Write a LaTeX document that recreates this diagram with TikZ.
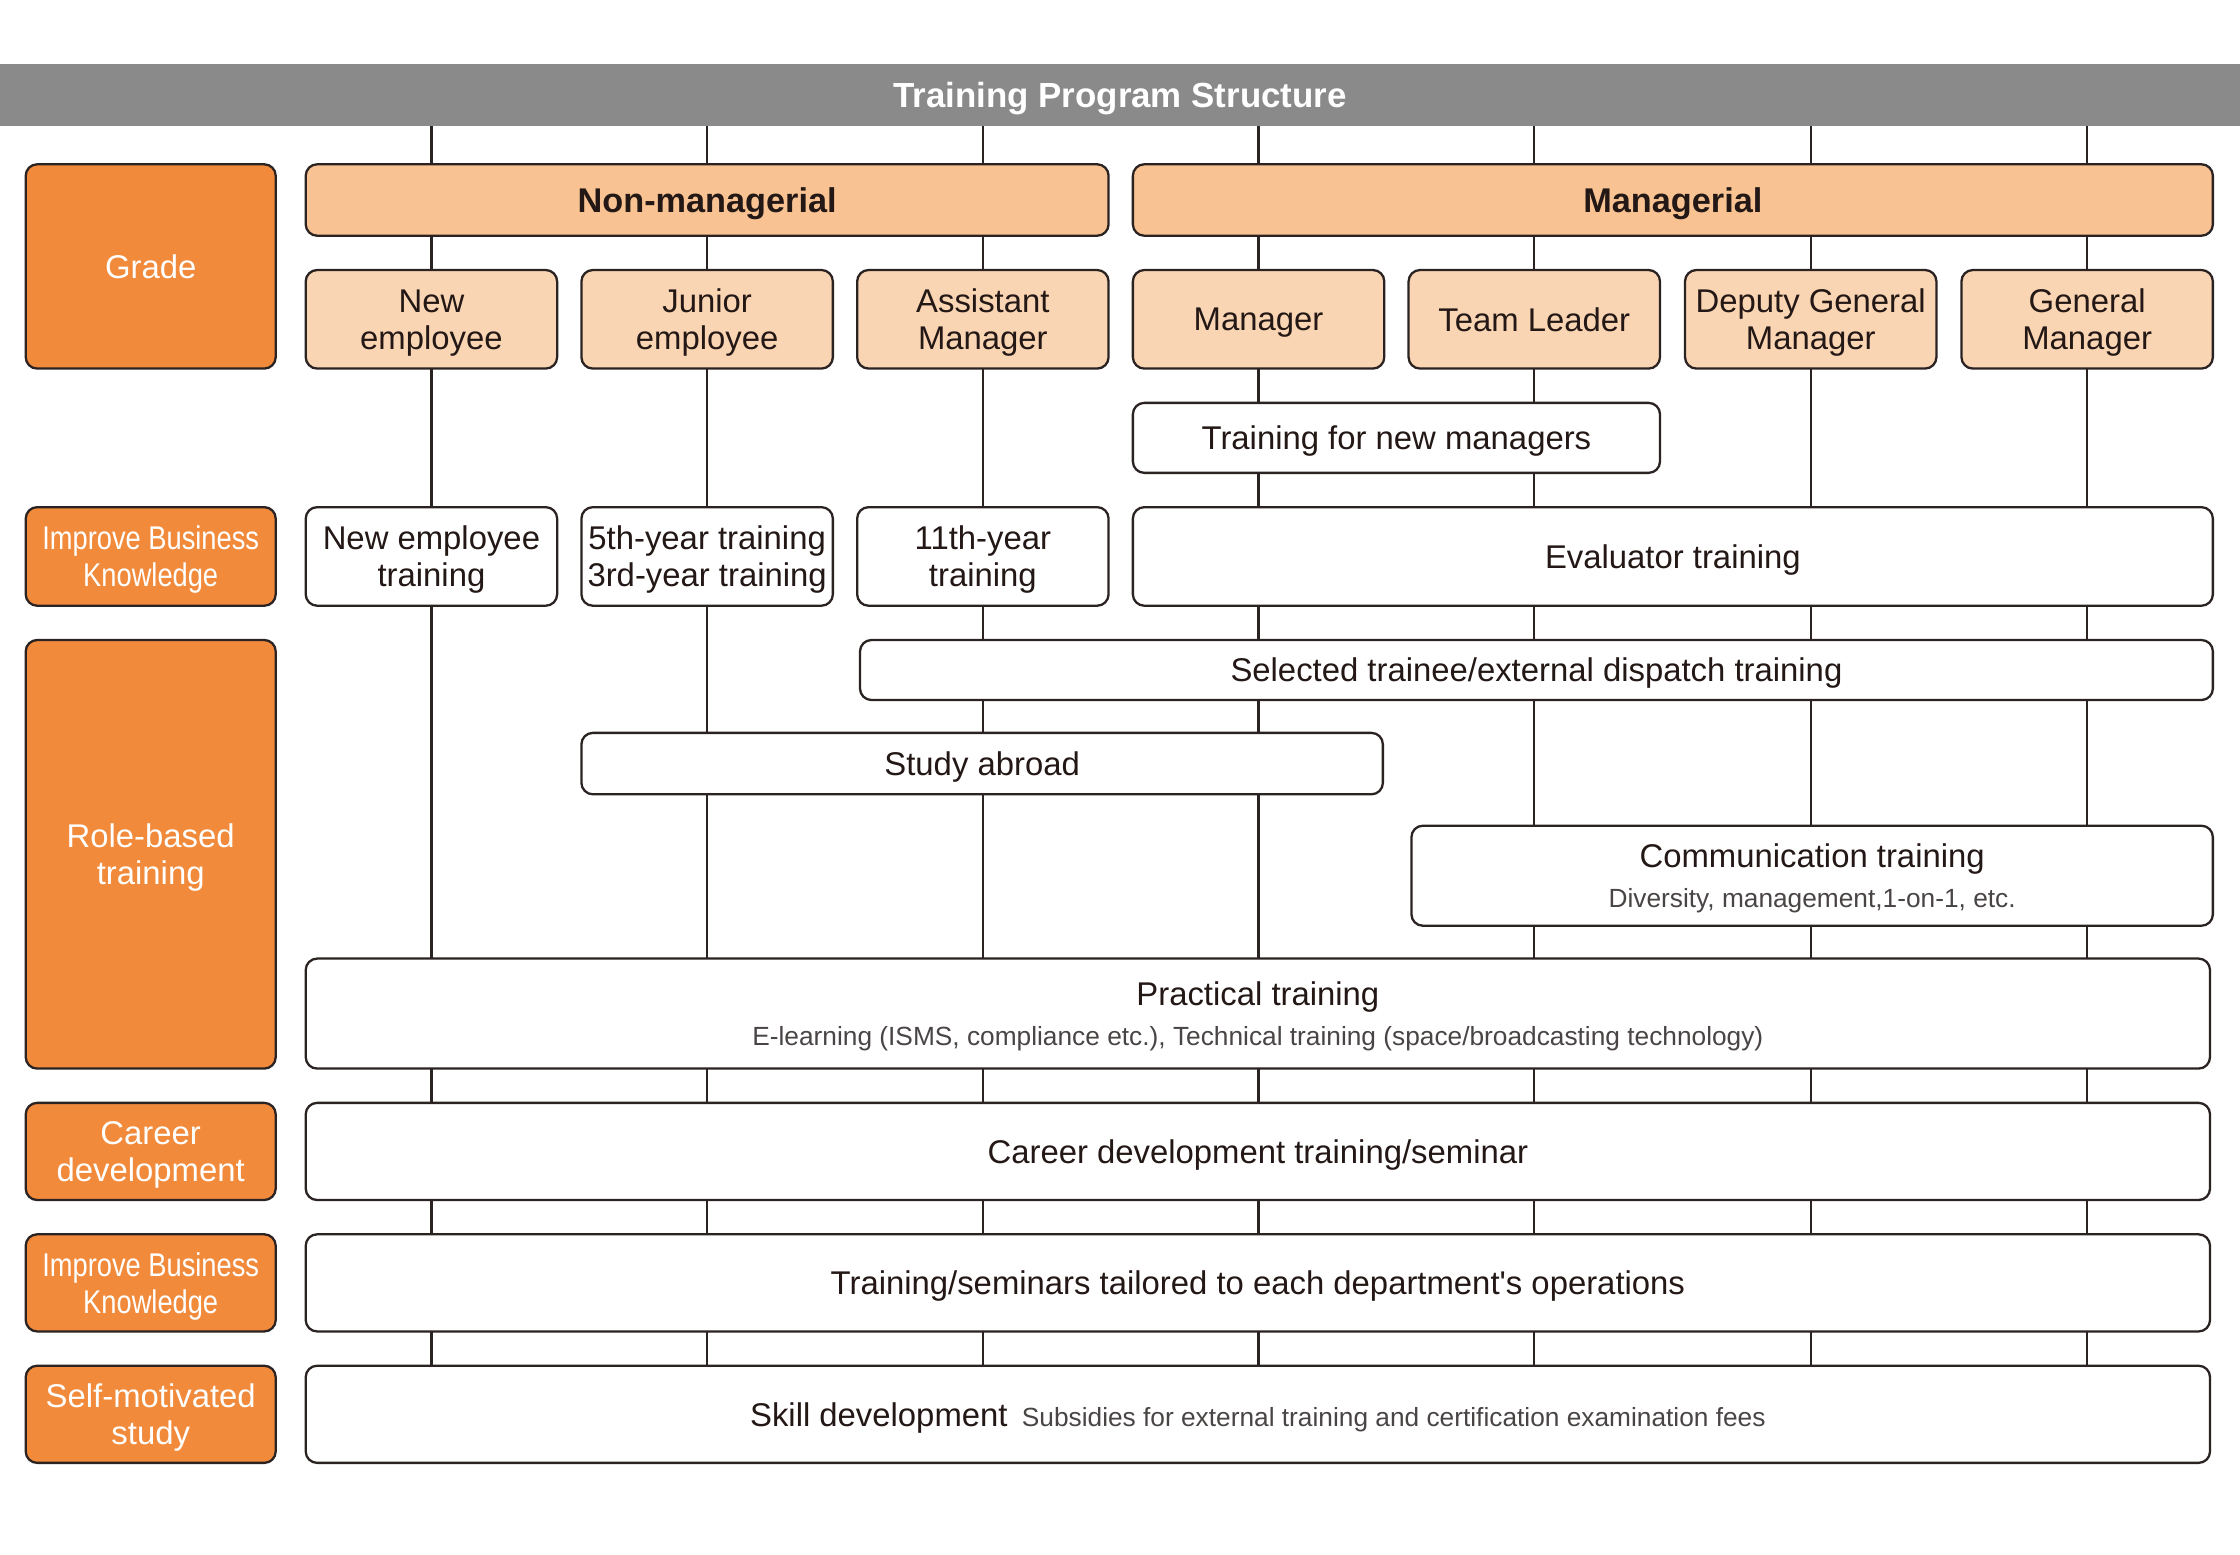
\documentclass[tikz,border=0pt]{standalone}
\usepackage{fontspec}
\setmainfont{Liberation Sans}[Ligatures=TeXOff]
\newfontfamily\condfont[FakeStretch=0.83,Ligatures=TeXOff]{Liberation Sans}
\usetikzlibrary{backgrounds}
\definecolor{orangeD}{HTML}{F18A3B}
\definecolor{orangeM}{HTML}{F8C292}
\definecolor{orangeL}{HTML}{FAD5B3}
\definecolor{headgrey}{HTML}{8A8A8A}
\definecolor{linec}{HTML}{2B2222}
\definecolor{textc}{HTML}{231815}
\definecolor{subc}{HTML}{4A4545}
\newcommand\subf{\fontsize{9.2}{10.5}\selectfont\color{subc}}
\tikzset{
  box/.style={draw=linec, line width=0.8pt, rounded corners=4pt, fill=white, text=textc,
    inner sep=0pt, align=center, text depth=-3.2pt, font=\fontsize{11.5}{13}\selectfont},
  lab/.style={box, fill=orangeD, text=white},
  condlab/.style={lab, font=\condfont\fontsize{11.5}{13}\selectfont},
  gradebox/.style={box, fill=orangeL, minimum width=88pt, minimum height=34.5pt},
  catbox/.style={box, fill=orangeM, minimum height=25pt, font=\bfseries\fontsize{12}{14}\selectfont},
  col/.style={line width=0.8pt, draw=linec}
}
\begin{document}
\begin{tikzpicture}[x=0.5pt,y=-0.5pt]
\useasboundingbox (0,0) rectangle (1568,1088);
% header
\node[fill=headgrey, minimum width=784pt, minimum height=21.5pt, inner sep=0pt, text=white, text depth=-3.2pt,
  font=\bfseries\fontsize{12.2}{14}\selectfont] (header) at (784,66.5) {Training Program Structure};
% left labels
\node[lab, minimum width=87.5pt, minimum height=71.5pt] (grade) at (105.5,186.5) {Grade};
\node[condlab, minimum width=87.5pt, minimum height=34.5pt] (ibk1) at (105.5,389.5) {Improve Business\\Knowledge};
\node[lab, minimum width=87.5pt, minimum height=150pt] (role) at (105.5,598) {Role-based\\training};
\node[lab, minimum width=87.5pt, minimum height=34pt] (career) at (105.5,806) {Career\\development};
\node[condlab, minimum width=87.5pt, minimum height=34pt] (ibk2) at (105.5,898) {Improve Business\\Knowledge};
\node[lab, minimum width=87.5pt, minimum height=34pt] (selfm) at (105.5,990) {Self-motivated\\study};
% categories
\node[catbox, minimum width=281pt] (nonman) at (495,140) {Non-managerial};
\node[catbox, minimum width=378pt] (man) at (1171,140) {Managerial};
% grades
\node[gradebox] (g1) at (302,223.5) {New\\employee};
\node[gradebox] (g2) at (495,223.5) {Junior\\employee};
\node[gradebox] (g3) at (688,223.5) {Assistant\\Manager};
\node[gradebox] (g4) at (881,223.5) {Manager};
\node[gradebox] (g5) at (1074,223.5) {Team Leader};
\node[gradebox] (g6) at (1267.5,223.5) {Deputy General\\Manager};
\node[gradebox] (g7) at (1461,223.5) {General\\Manager};
% trainings
\node[box, minimum width=184.5pt, minimum height=24.5pt] (newmgr) at (977.5,306.5) {Training for new managers};
\node[box, minimum width=88pt, minimum height=34.5pt] (newemp) at (302,389.5) {New employee\\training};
\node[box, minimum width=88pt, minimum height=34.5pt] (fifth) at (495,389.5) {5th-year training\\3rd-year training};
\node[box, minimum width=88pt, minimum height=34.5pt] (eleventh) at (688,389.5) {11th-year\\training};
\node[box, minimum width=378pt, minimum height=34.5pt] (eval) at (1171,389.5) {Evaluator training};
\node[box, minimum width=473.5pt, minimum height=21pt] (selected) at (1075.5,469) {Selected trainee/external dispatch training};
\node[box, minimum width=280.5pt, minimum height=21.5pt] (study) at (687.5,534.5) {Study abroad};
\node[box, minimum width=280.5pt, minimum height=35pt] (comm) at (1268.5,613) {Communication training\\[1pt]{\subf Diversity, management,1-on-1, etc.}};
\node[box, minimum width=666.5pt, minimum height=38.5pt] (prac) at (880.5,709.5) {Practical training\\[1pt]{\subf E-learning (ISMS, compliance etc.), Technical training (space/broadcasting technology)}};
\node[box, minimum width=666.5pt, minimum height=34pt] (cdev) at (880.5,806) {Career development training/seminar};
\node[box, minimum width=666.5pt, minimum height=34pt] (dept) at (880.5,898) {Training/seminars tailored to each department's operations};
\node[box, minimum width=666.5pt, minimum height=34pt] (skill) at (880.5,990) {Skill development\hspace{5pt}{\subf Subsidies for external training and certification examination fees}};
% column lines
\begin{scope}[on background layer]
\foreach \g in {g1,g2,g3,g4,g5,g6,g7}{
  \draw[col] (\g |- header.south) -- (\g |- skill.north);
}
\end{scope}
\end{tikzpicture}
\end{document}
